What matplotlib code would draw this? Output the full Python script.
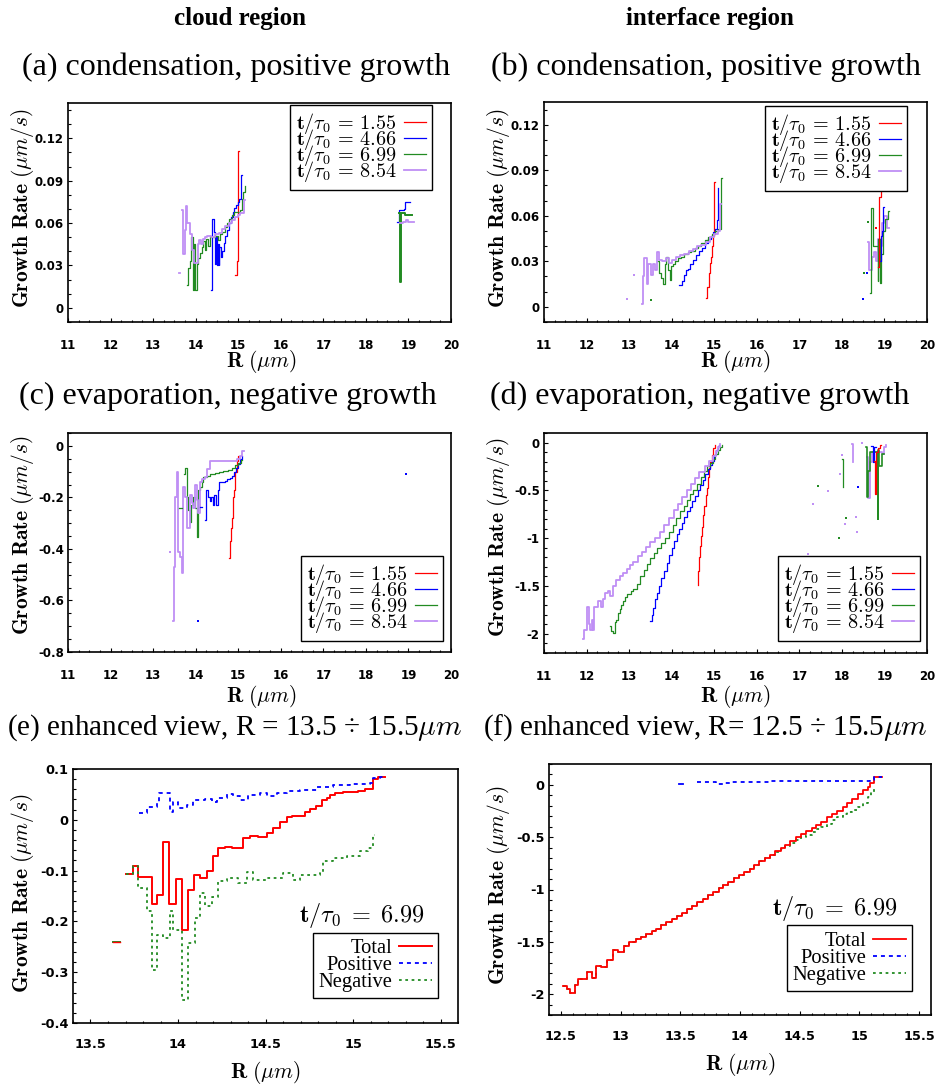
import matplotlib
matplotlib.use("Agg")
import matplotlib.pyplot as plt
from matplotlib.ticker import MultipleLocator, FuncFormatter

plt.rcParams["mathtext.fontset"] = "cm"
plt.rcParams["axes.unicode_minus"] = False

# ---------------------------------------------------------------- series
TIMES = ["1.55", "4.66", "6.99", "8.54"]
COLORS = ["#ff0000", "#0000ff", "#228b22", "#bf8ff5"]
WIDTHS = [0.9, 0.9, 0.9, 1.3]

# (a) cloud region, condensation
a_r155 = [14.93, 14.96, 14.985, 15.00, 15.01]
a_y155 = [0.023, 0.033, 0.050, 0.111, 0.111]
a_r155_far = [18.88, 18.91]
a_y155_far = [0.088, 0.088]

a_r466 = [14.37, 14.385, 14.43, 14.46, 14.48, 14.50, 14.52, 14.54, 14.56, 14.60, 14.63, 14.66,
          14.70, 14.74, 14.78, 14.83, 14.87, 14.91, 14.95, 14.99, 15.03, 15.07, 15.09]
a_y466 = [0.013, 0.063, 0.054, 0.031, 0.050, 0.030, 0.045, 0.030, 0.043, 0.036, 0.040, 0.046,
          0.051, 0.055, 0.060, 0.064, 0.068, 0.071, 0.073, 0.075, 0.077, 0.094, 0.094]
a_r466_far = [18.74, 18.78, 18.90, 18.93, 19.03]
a_y466_far = [0.061, 0.069, 0.070, 0.075, 0.075]

a_r699 = [13.79, 13.83, 13.86, 13.90, 13.94, 13.96, 13.98, 14.02, 14.06, 14.10, 14.14, 14.18,
          14.21, 14.25, 14.29, 14.33, 14.37, 14.45, 14.53, 14.58, 14.63, 14.68, 14.73, 14.79,
          14.85, 14.91, 14.97, 15.04, 15.09, 15.12, 15.15]
a_y699 = [0.016, 0.028, 0.033, 0.050, 0.013, 0.045, 0.013, 0.031, 0.035, 0.039, 0.043, 0.047,
          0.041, 0.049, 0.044, 0.051, 0.050, 0.051, 0.048, 0.052, 0.054, 0.057, 0.060, 0.063,
          0.066, 0.068, 0.068, 0.069, 0.077, 0.082, 0.086]
a_r699_far = [18.78, 18.80, 18.82, 18.93, 19.09]
a_y699_far = [0.067, 0.018, 0.067, 0.066, 0.066]

a_r854 = [13.68, 13.71, 13.75, 13.77, 13.80, 13.86, 13.92, 13.96, 14.05, 14.09, 14.13, 14.17,
          14.21, 14.26, 14.35, 14.45, 14.55, 14.63, 14.70, 14.78, 14.86, 14.93, 14.99, 15.05,
          15.13, 15.17]
a_y854 = [0.069, 0.038, 0.055, 0.072, 0.060, 0.052, 0.041, 0.032, 0.045, 0.048, 0.045, 0.049,
          0.050, 0.051, 0.050, 0.052, 0.053, 0.056, 0.058, 0.060, 0.062, 0.064, 0.066, 0.067,
          0.076, 0.076]
a_r854_dot = [13.60, 13.64]
a_y854_dot = [0.0245, 0.0245]
a_r854_far = [18.80, 18.88, 18.95, 19.00, 19.12]
a_y854_far = [0.060, 0.061, 0.062, 0.061, 0.061]

# (b) interface region, condensation
b_r155 = [14.81, 14.84, 14.87, 14.89, 14.92, 14.95, 14.98, 15.00, 15.02]
b_y155 = [0.006, 0.013, 0.022, 0.029, 0.033, 0.040, 0.047, 0.082, 0.082]
b_r155_far = [18.86, 18.87, 18.91, 18.94]
b_y155_far = [0.026, 0.0725, 0.077, 0.077]
b_r155_pts = [18.79]
b_y155_pts = [0.052]

b_r466 = [14.18, 14.25, 14.28, 14.33, 14.38, 14.43, 14.50, 14.57, 14.64, 14.71, 14.78, 14.85,
          14.92, 14.98, 15.03, 15.06, 15.09]
b_y466 = [0.0145, 0.017, 0.021, 0.024, 0.025, 0.028, 0.031, 0.034, 0.037, 0.039, 0.042, 0.045,
          0.047, 0.049, 0.051, 0.057, 0.078]
b_r466_far = [18.90, 18.92, 18.95, 18.97, 19.00]
b_y466_far = [0.030, 0.047, 0.050, 0.066, 0.066]
b_r466_pts = [18.50, 18.59]
b_y466_pts = [0.005, 0.022]

b_r699 = [13.65, 13.70, 13.76, 13.80, 13.84, 13.87, 13.91, 13.95, 13.98, 14.02, 14.07, 14.14,
          14.22, 14.30, 14.38, 14.46, 14.54, 14.62, 14.70, 14.78, 14.86, 14.94, 15.02, 15.10,
          15.16, 15.18]
b_y699 = [0.030, 0.022, 0.019, 0.015, 0.028, 0.033, 0.024, 0.018, 0.027, 0.028, 0.030, 0.032,
          0.033, 0.035, 0.036, 0.037, 0.039, 0.040, 0.042, 0.044, 0.046, 0.048, 0.050, 0.051,
          0.085, 0.085]
b_r699_far = [18.67, 18.69, 18.72, 18.84, 18.86, 18.89, 18.92, 18.96, 19.02, 19.08, 19.10]
b_y699_far = [0.009, 0.065, 0.040, 0.017, 0.045, 0.016, 0.035, 0.050, 0.058, 0.063, 0.063]
b_r699_pts = [13.51, 18.52, 18.62]
b_y699_pts = [0.0046, 0.022, 0.056]

b_r854 = [13.30, 13.32, 13.35, 13.41, 13.45, 13.51, 13.55, 13.60, 13.65, 13.70, 13.78, 13.86,
          13.93, 14.00, 14.10, 14.20, 14.30, 14.40, 14.50, 14.60, 14.70, 14.80, 14.90, 15.00,
          15.08, 15.14, 15.16]
b_y854 = [0.002, 0.020, 0.032, 0.015, 0.028, 0.021, 0.028, 0.024, 0.036, 0.031, 0.030, 0.032,
          0.029, 0.031, 0.033, 0.034, 0.035, 0.037, 0.038, 0.040, 0.041, 0.043, 0.046, 0.048,
          0.050, 0.068, 0.068]
b_r854_far = [18.62, 18.64, 18.70, 18.76, 18.80, 18.85, 18.90, 18.95, 19.00, 19.05, 19.10]
b_y854_far = [0.043, 0.024, 0.033, 0.036, 0.030, 0.045, 0.040, 0.055, 0.060, 0.052, 0.052]
b_r854_pts = [12.94, 13.12]
b_y854_pts = [0.005, 0.021]

# (c) cloud region, evaporation
c_r155 = [14.79, 14.81, 14.84, 14.86, 14.88, 14.91, 14.93, 14.96, 14.99, 15.01]
c_y155 = [-0.436, -0.37, -0.32, -0.28, -0.20, -0.17, -0.10, -0.06, -0.04, -0.04]

c_r466 = [14.22, 14.24, 14.29, 14.33, 14.36, 14.40, 14.44, 14.48, 14.52, 14.56, 14.62, 14.68,
          14.74, 14.80, 14.86, 14.90, 14.95, 15.00, 15.04, 15.08]
c_y466 = [-0.287, -0.170, -0.200, -0.215, -0.200, -0.230, -0.190, -0.230, -0.170, -0.140,
          -0.140, -0.135, -0.128, -0.125, -0.115, -0.100, -0.085, -0.070, -0.050, -0.040]
c_r466_far = [14.11, 14.16]
c_y466_far = [-0.236, -0.236]
c_r466_pts = [14.05, 18.95]
c_y466_pts = [-0.68, -0.11]

c_r699 = [13.73, 13.75, 13.79, 13.83, 13.87, 13.90, 13.94, 13.98, 14.02, 14.06, 14.10, 14.14,
          14.18, 14.26, 14.34, 14.45, 14.55, 14.65, 14.75, 14.85, 14.92, 15.00, 15.06, 15.10]
c_y699 = [-0.110, -0.087, -0.200, -0.250, -0.294, -0.230, -0.200, -0.240, -0.352, -0.170,
          -0.160, -0.140, -0.120, -0.115, -0.110, -0.105, -0.100, -0.097, -0.092, -0.085,
          -0.075, -0.068, -0.055, -0.055]
c_r699_far = [13.62, 13.67]
c_y699_far = [-0.24, -0.24]

c_r854 = [13.46, 13.48, 13.51, 13.55, 13.59, 13.63, 13.67, 13.71, 13.75, 13.79, 13.83, 13.87,
          13.91, 13.94, 13.98, 14.02, 14.06, 14.10, 14.16, 14.22, 14.26, 14.34, 14.50, 14.70,
          14.90, 14.98, 15.05, 15.10, 15.14]
c_y854 = [-0.68, -0.47, -0.20, -0.10, -0.41, -0.43, -0.494, -0.16, -0.20, -0.319, -0.32,
          -0.19, -0.22, -0.24, -0.15, -0.21, -0.26, -0.14, -0.13, -0.12, -0.09, -0.06, -0.06,
          -0.058, -0.057, -0.05, -0.04, -0.02, -0.02]
c_r854_pts = [13.40]
c_y854_pts = [-0.41]

# (d) interface region, evaporation
d_r155 = [14.61, 14.63, 14.65, 14.67, 14.70, 14.72, 14.74, 14.77, 14.80, 14.82, 14.85, 14.88,
          14.91, 14.95, 14.98, 15.01, 15.03]
d_y155 = [-1.49, -1.34, -1.20, -1.08, -0.98, -0.88, -0.76, -0.66, -0.55, -0.47, -0.36, -0.27,
          -0.20, -0.13, -0.06, -0.03, -0.03]
d_r155_far = [18.76, 18.78, 18.80, 18.86, 18.90, 18.93]
d_y155_far = [-0.19, -0.54, -0.10, -0.06, -0.03, -0.03]

d_r466 = [13.49, 13.53, 13.57, 13.62, 13.66, 13.70, 13.76, 13.82, 13.88, 13.94, 14.00, 14.06,
          14.12, 14.18, 14.24, 14.30, 14.36, 14.42, 14.48, 14.54, 14.61, 14.67, 14.73, 14.79,
          14.85, 14.90, 14.95, 15.00, 15.04, 15.08, 15.11]
d_y466 = [-1.87, -1.80, -1.73, -1.64, -1.57, -1.50, -1.42, -1.34, -1.26, -1.18, -1.10, -1.03,
          -0.96, -0.90, -0.84, -0.78, -0.72, -0.67, -0.61, -0.56, -0.50, -0.44, -0.39, -0.33,
          -0.28, -0.23, -0.19, -0.13, -0.08, -0.04, -0.03]
d_r466_far = [18.68, 18.72, 18.76, 18.80]
d_y466_far = [-0.04, -0.20, -0.05, -0.05]
d_r466_pts = [18.39]
d_y466_pts = [-0.46]

d_r699 = [12.54, 12.58, 12.62, 12.66, 12.70, 12.74, 12.78, 12.82, 12.86, 12.90, 12.95, 13.00,
          13.05, 13.10, 13.18, 13.26, 13.34, 13.42, 13.50, 13.58, 13.66, 13.75, 13.84, 13.93,
          14.02, 14.11, 14.20, 14.28, 14.36, 14.44, 14.51, 14.60, 14.68, 14.76, 14.83, 14.90,
          14.96, 15.02, 15.08, 15.13, 15.18]
d_y699 = [-1.92, -1.97, -1.99, -1.88, -1.85, -1.78, -1.74, -1.70, -1.66, -1.61, -1.58, -1.58,
          -1.55, -1.53, -1.48, -1.40, -1.33, -1.27, -1.21, -1.15, -1.10, -1.05, -1.00, -0.93,
          -0.86, -0.79, -0.72, -0.66, -0.60, -0.54, -0.50, -0.43, -0.36, -0.30, -0.25, -0.21,
          -0.17, -0.12, -0.08, -0.05, -0.03]
d_r699_far = [18.56, 18.58, 18.62, 18.66, 18.84, 18.86, 18.88, 18.94, 19.00]
d_y699_far = [-0.05, -0.57, -0.30, -0.10, -0.80, -0.08, -0.25, -0.12, -0.12]
d_r699_mid = [18.01, 18.03]
d_y699_mid = [-0.17, -0.46]
d_r699_pts = [17.45, 17.94, 18.10]
d_y699_pts = [-0.455, -1.0, -0.79]

d_r854 = [11.92, 11.95, 12.00, 12.02, 12.05, 12.08, 12.12, 12.15, 12.18, 12.24, 12.28, 12.33,
          12.38, 12.44, 12.50, 12.56, 12.62, 12.70, 12.78, 12.86, 12.94, 13.02, 13.10, 13.20,
          13.30, 13.40, 13.50, 13.61, 13.72, 13.83, 13.94, 14.05, 14.15, 14.25, 14.35, 14.45,
          14.55, 14.65, 14.78, 14.88, 14.96, 15.04, 15.10, 15.14]
d_y854 = [-2.05, -1.96, -1.95, -1.72, -1.90, -1.96, -1.86, -1.96, -1.72, -1.72, -1.66, -1.72,
          -1.64, -1.57, -1.55, -1.60, -1.50, -1.44, -1.40, -1.36, -1.32, -1.28, -1.25, -1.19,
          -1.14, -1.09, -1.04, -1.00, -0.93, -0.86, -0.79, -0.71, -0.64, -0.57, -0.50, -0.43,
          -0.37, -0.31, -0.25, -0.19, -0.14, -0.09, -0.05, -0.02]
d_r854_far = [18.60, 18.62, 18.66, 18.70, 18.94, 19.00, 19.04]
d_y854_far = [-0.15, -0.58, -0.20, -0.10, -0.12, -0.05, -0.03]
d_r854_mid = [18.24, 18.26]
d_y854_mid = [-0.02, -0.20]
d_r854_pts = [17.21, 17.33, 17.68, 17.95, 18.00, 18.08, 18.32, 18.35, 18.48]
d_y854_pts = [-1.17, -0.64, -0.51, -0.33, -0.13, -0.85, -0.78, -0.94, 0.0]

# (e) cloud region, t/tau0 = 6.99 split by sign
e_tot_r = [13.703, 13.741, 13.773, 13.850, 13.878, 13.912, 13.950, 13.989, 14.021, 14.059,
           14.093, 14.126, 14.164, 14.198, 14.230, 14.269, 14.307, 14.373, 14.411, 14.459,
           14.507, 14.545, 14.583, 14.621, 14.650, 14.726, 14.754, 14.789, 14.821, 14.850,
           14.869, 14.897, 14.945, 14.983, 15.030, 15.069, 15.113, 15.145, 15.183]
e_tot_y = [-0.107, -0.090, -0.112, -0.165, -0.148, -0.044, -0.165, -0.116, -0.217, -0.138,
           -0.108, -0.115, -0.100, -0.071, -0.056, -0.054, -0.056, -0.035, -0.031, -0.033,
           -0.025, -0.016, -0.005, 0.005, 0.007, 0.016, 0.021, 0.028, 0.038, 0.043,
           0.048, 0.052, 0.054, 0.055, 0.056, 0.061, 0.081, 0.085, 0.085]
e_tot_far_r = [13.63, 13.67]
e_tot_far_y = [-0.241, -0.241]

e_pos_r = [13.779, 13.821, 13.878, 13.893, 13.954, 13.973, 14.002, 14.050, 14.088, 14.154,
           14.192, 14.221, 14.278, 14.316, 14.354, 14.402, 14.469, 14.507, 14.564, 14.621,
           14.697, 14.792, 14.888, 14.983, 15.097, 15.117, 15.154, 15.183]
e_pos_y = [0.014, 0.026, 0.033, 0.052, 0.016, 0.036, 0.023, 0.030, 0.039, 0.041,
           0.036, 0.043, 0.051, 0.046, 0.039, 0.049, 0.052, 0.046, 0.052, 0.056,
           0.059, 0.064, 0.069, 0.071, 0.072, 0.082, 0.085, 0.085]

e_neg_r = [13.705, 13.741, 13.773, 13.821, 13.850, 13.878, 13.916, 13.954, 13.973, 14.021,
           14.059, 14.097, 14.126, 14.154, 14.192, 14.230, 14.278, 14.345, 14.392, 14.430,
           14.507, 14.602, 14.659, 14.697, 14.811, 14.830, 14.888, 14.964, 15.040, 15.088,
           15.117, 15.126]
e_neg_y = [-0.107, -0.090, -0.135, -0.180, -0.295, -0.226, -0.233, -0.180, -0.217, -0.354,
           -0.243, -0.194, -0.144, -0.170, -0.151, -0.121, -0.115, -0.125, -0.102, -0.118,
           -0.115, -0.105, -0.118, -0.108, -0.104, -0.082, -0.075, -0.072, -0.062, -0.056,
           -0.030, -0.030]

# (f) interface region, t/tau0 = 6.99 split by sign
f_tot_r = [12.515, 12.548, 12.576, 12.618, 12.646, 12.716, 12.758, 12.794, 12.833, 12.889,
           12.933, 12.980, 13.028, 13.073,
           13.13, 13.17, 13.21, 13.26, 13.30, 13.34, 13.38, 13.43, 13.47, 13.51,
           13.56, 13.60, 13.64, 13.69, 13.73, 13.77, 13.82, 13.86, 13.90, 13.95,
           13.99, 14.03, 14.08, 14.12, 14.16, 14.21, 14.25, 14.29, 14.34, 14.38,
           14.42, 14.47, 14.51, 14.55, 14.60, 14.64, 14.68, 14.73, 14.77, 14.81,
           14.86, 14.90, 14.94, 14.99, 15.03, 15.07, 15.09, 15.12, 15.19]
f_tot_y = [-1.92, -1.95, -1.99, -1.91, -1.86, -1.79, -1.85, -1.73, -1.74, -1.67,
           -1.58, -1.60, -1.54, -1.50,
           -1.47, -1.45, -1.43, -1.40, -1.38, -1.34, -1.31, -1.28, -1.25, -1.22,
           -1.19, -1.16, -1.12, -1.09, -1.05, -1.02, -0.99, -0.96, -0.93, -0.89,
           -0.86, -0.83, -0.80, -0.77, -0.73, -0.70, -0.67, -0.63, -0.60, -0.57,
           -0.54, -0.50, -0.47, -0.44, -0.41, -0.38, -0.35, -0.31, -0.28, -0.25,
           -0.21, -0.17, -0.13, -0.09, -0.05, -0.02, 0.02, 0.08, 0.08]

f_neg_r = [12.515, 12.548, 12.576, 12.618, 12.646, 12.716, 12.758, 12.794, 12.833, 12.889,
           12.933, 12.980, 13.028, 13.073,
           13.13, 13.17, 13.21, 13.26, 13.30, 13.34, 13.38, 13.43, 13.47, 13.51,
           13.56, 13.60, 13.64, 13.69, 13.73, 13.77, 13.82, 13.86, 13.90, 13.95,
           13.99, 14.03, 14.08, 14.12, 14.16, 14.21, 14.25,
           14.29, 14.34, 14.38, 14.42, 14.47, 14.51, 14.55, 14.60, 14.64, 14.68,
           14.73, 14.77, 14.81, 14.86, 14.90, 14.94, 14.99, 15.03, 15.07, 15.10, 15.12]
f_neg_y = [-1.92, -1.95, -1.99, -1.91, -1.86, -1.79, -1.85, -1.73, -1.74, -1.67,
           -1.58, -1.60, -1.54, -1.50,
           -1.47, -1.45, -1.43, -1.40, -1.38, -1.34, -1.31, -1.28, -1.25, -1.22,
           -1.19, -1.16, -1.12, -1.09, -1.05, -1.02, -0.99, -0.96, -0.93, -0.89,
           -0.86, -0.83, -0.80, -0.77, -0.73, -0.70, -0.67,
           -0.64, -0.61, -0.58, -0.56, -0.53, -0.50, -0.48, -0.45, -0.42, -0.40,
           -0.37, -0.34, -0.31, -0.28, -0.26, -0.24, -0.21, -0.17, -0.12, -0.07, -0.03]

f_pos_r = [13.64, 13.72, 13.80, 13.86, 13.93, 14.00, 14.10, 14.25, 14.50, 14.80, 15.09,
           15.12, 15.19]
f_pos_y = [0.030, 0.028, 0.012, 0.018, 0.025, 0.028, 0.030, 0.033, 0.037, 0.042, 0.048,
           0.080, 0.080]
f_pos_far_r = [13.49, 13.52]
f_pos_far_y = [0.006, 0.006]

# ---------------------------------------------------------------- layout
W, H = 938, 1086
fig = plt.figure(figsize=(W / 100, H / 100), dpi=100)

SERIF = "Liberation Serif"


def box(left, top, right, bottom):
    return [left / W, 1 - bottom / H, (right - left) / W, (bottom - top) / H]


def fmt(v, _pos):
    v = round(v, 6)
    if v == 0:
        return "0"
    return f"{v:g}"


def make_axes(rect, xlim, ylim, xmajor, xminor, ymajor, yminor, tsize, xpad):
    ax = fig.add_axes(rect)
    ax.set_xlim(*xlim)
    ax.set_ylim(*ylim)
    ax.xaxis.set_major_locator(MultipleLocator(xmajor))
    ax.xaxis.set_minor_locator(MultipleLocator(xminor))
    ax.yaxis.set_major_locator(MultipleLocator(ymajor))
    ax.yaxis.set_minor_locator(MultipleLocator(yminor))
    ax.xaxis.set_major_formatter(FuncFormatter(fmt))
    ax.yaxis.set_major_formatter(FuncFormatter(fmt))
    ax.tick_params(which="both", direction="in", top=False, right=False, width=0.8)
    ax.tick_params(which="major", length=3.2)
    ax.tick_params(which="minor", length=1.8)
    ax.tick_params(axis="x", which="major", pad=xpad)
    ax.tick_params(axis="y", which="major", pad=3)
    for lab in ax.get_xticklabels() + ax.get_yticklabels():
        lab.set_fontsize(tsize)
        lab.set_fontweight("bold")
        lab.set_fontfamily("DejaVu Sans")
    for sp in ax.spines.values():
        sp.set_linewidth(1.2)
    return ax


def steps(ax, r, y, color, lw, **kw):
    return ax.plot(r, y, drawstyle="steps-post", color=color, lw=lw, **kw)[0]


def points(ax, r, y, color):
    ax.plot(r, y, ls="none", marker="s", ms=1.6, mew=0, color=color)


def time_legend(ax, handles, loc, anchor):
    labels = [r"$\mathbf{t}/\tau_{\mathbf{0}}\,\mathbf{=}\,\mathbf{" + t + "}$" for t in TIMES]
    leg = ax.legend(handles, labels, loc=loc, bbox_to_anchor=anchor, borderaxespad=0,
                    fontsize=14.5, markerfirst=False, handlelength=1.1, handletextpad=0.35,
                    labelspacing=-0.45, borderpad=0.3, fancybox=False, framealpha=1)
    leg.get_frame().set_edgecolor("black")
    leg.get_frame().set_linewidth(1.0)
    return leg


XLAB = r"$\mathbf{R}\ (\mu m)$"
YLAB = r"$\mathbf{Growth\ Rate}\ (\mu m/s)$"


def fig_text(x, y, s, **kw):
    fig.text(x / W, 1 - y / H, s, ha="center", va="center", **kw)


# column headers and panel titles
fig_text(240, 18, "cloud region", fontsize=18, fontweight="bold", family=SERIF)
fig_text(710, 18, "interface region", fontsize=18, fontweight="bold", family=SERIF)
fig_text(236, 67, "(a) condensation, positive growth", fontsize=23, family=SERIF)
fig_text(706, 67, "(b) condensation, positive growth", fontsize=23, family=SERIF)
fig_text(228, 396, "(c) evaporation, negative growth", fontsize=23, family=SERIF)
fig_text(700, 396, "(d) evaporation, negative growth", fontsize=23, family=SERIF)
fig_text(235, 728, r"(e) enhanced view, R = 13.5 ÷ 15.5$\mu m$", fontsize=21, family=SERIF)
fig_text(705, 728, r"(f) enhanced view, R= 12.5 ÷ 15.5$\mu m$", fontsize=21, family=SERIF)

# ---------------------------------------------------------------- panel (a)
ax_a = make_axes(box(68, 103, 451, 322), (11, 20), (-0.01, 0.145), 1, 0.25, 0.03, 0.01, 8.5, 12)
main_a = []
for (r, y), c, w in zip([(a_r155, a_y155), (a_r466, a_y466), (a_r699, a_y699), (a_r854, a_y854)],
                        COLORS, WIDTHS):
    main_a.append(steps(ax_a, r, y, c, w))
steps(ax_a, a_r155_far, a_y155_far, COLORS[0], WIDTHS[0])
steps(ax_a, a_r466_far, a_y466_far, COLORS[1], WIDTHS[1])
steps(ax_a, a_r699_far, a_y699_far, COLORS[2], 1.4)
steps(ax_a, a_r854_far, a_y854_far, COLORS[3], WIDTHS[3])
steps(ax_a, a_r854_dot, a_y854_dot, COLORS[3], WIDTHS[3])
time_legend(ax_a, main_a, "upper right", (0.950, 0.991))

# ---------------------------------------------------------------- panel (b)
ax_b = make_axes(box(544, 102, 927, 322), (11, 20), (-0.01, 0.135), 1, 0.25, 0.03, 0.01, 8.5, 12)
main_b = []
for (r, y), c, w in zip([(b_r155, b_y155), (b_r466, b_y466), (b_r699, b_y699), (b_r854, b_y854)],
                        COLORS, WIDTHS):
    main_b.append(steps(ax_b, r, y, c, w))
steps(ax_b, b_r854_far, b_y854_far, COLORS[3], WIDTHS[3])
steps(ax_b, b_r699_far, b_y699_far, COLORS[2], WIDTHS[2])
steps(ax_b, b_r466_far, b_y466_far, COLORS[1], WIDTHS[1])
steps(ax_b, b_r155_far, b_y155_far, COLORS[0], WIDTHS[0])
points(ax_b, b_r155_pts, b_y155_pts, COLORS[0])
points(ax_b, b_r466_pts, b_y466_pts, COLORS[1])
points(ax_b, b_r699_pts, b_y699_pts, COLORS[2])
points(ax_b, b_r854_pts, b_y854_pts, COLORS[3])
time_legend(ax_b, main_b, "upper right", (0.948, 0.982))

# ---------------------------------------------------------------- panel (c)
ax_c = make_axes(box(68, 433, 451, 652), (11, 20), (-0.8, 0.05), 1, 0.25, 0.2, 0.05, 8.5, 12)
main_c = []
for (r, y), c, w in zip([(c_r155, c_y155), (c_r466, c_y466), (c_r699, c_y699), (c_r854, c_y854)],
                        COLORS, WIDTHS):
    main_c.append(steps(ax_c, r, y, c, w))
steps(ax_c, c_r466_far, c_y466_far, COLORS[1], WIDTHS[1])
steps(ax_c, c_r699_far, c_y699_far, COLORS[2], WIDTHS[2])
points(ax_c, c_r466_pts, c_y466_pts, COLORS[1])
points(ax_c, c_r854_pts, c_y854_pts, COLORS[3])
time_legend(ax_c, main_c, "lower right", (0.979, 0.050))

# ---------------------------------------------------------------- panel (d)
ax_d = make_axes(box(544, 433, 927, 653), (11, 20), (-2.2, 0.1), 1, 0.25, 0.5, 0.1, 8.5, 12)
main_d = []
for (r, y), c, w in zip([(d_r155, d_y155), (d_r466, d_y466), (d_r699, d_y699), (d_r854, d_y854)],
                        COLORS, WIDTHS):
    main_d.append(steps(ax_d, r, y, c, w))
steps(ax_d, d_r854_far, d_y854_far, COLORS[3], WIDTHS[3])
steps(ax_d, d_r854_mid, d_y854_mid, COLORS[3], WIDTHS[3])
steps(ax_d, d_r699_far, d_y699_far, COLORS[2], 1.2)
steps(ax_d, d_r699_mid, d_y699_mid, COLORS[2], WIDTHS[2])
steps(ax_d, d_r466_far, d_y466_far, COLORS[1], WIDTHS[1])
steps(ax_d, d_r155_far, d_y155_far, COLORS[0], WIDTHS[0])
points(ax_d, d_r466_pts, d_y466_pts, COLORS[1])
points(ax_d, d_r699_pts, d_y699_pts, COLORS[2])
points(ax_d, d_r854_pts, d_y854_pts, COLORS[3])
time_legend(ax_d, main_d, "lower right", (0.982, 0.055))


# ---------------------------------------------------------------- panels (e), (f)
def sign_legend(ax, handles, anchor):
    leg = ax.legend(handles, ["Total", "Positive", "Negative"], loc="lower right",
                    bbox_to_anchor=anchor, borderaxespad=0, markerfirst=False,
                    prop={"family": SERIF, "size": 14.8}, handlelength=1.6,
                    handletextpad=0.3, labelspacing=-0.12, borderpad=0.3,
                    fancybox=False, framealpha=1)
    leg.get_frame().set_edgecolor("black")
    leg.get_frame().set_linewidth(1.0)


STAMP = r"$\mathbf{t}/\tau_{\mathbf{0}}\;\mathbf{=}\;\mathbf{6.99}$"

ax_e = make_axes(box(73, 769, 458, 1023), (13.4, 15.6), (-0.4, 0.1), 0.5, 0.1, 0.1, 0.02, 9.3, 11)
h_tot = steps(ax_e, e_tot_r, e_tot_y, "#ff0000", 1.4)
h_pos = steps(ax_e, e_pos_r, e_pos_y, "#0000ff", 1.3, dashes=(2.2, 2.2))
h_neg = steps(ax_e, e_neg_r, e_neg_y, "#228b22", 1.3, dashes=(1.5, 2.0))
steps(ax_e, e_tot_far_r, e_tot_far_y, "#228b22", 1.4)
steps(ax_e, e_tot_far_r, e_tot_far_y, "#ff0000", 1.0)
ax_e.text(0.75, 0.425, STAMP, transform=ax_e.transAxes, ha="center", va="center", fontsize=17.5)
sign_legend(ax_e, [h_tot, h_pos, h_neg], (0.948, 0.098))

ax_f = make_axes(box(549, 764, 931, 1015), (12.4, 15.6), (-2.2, 0.2), 0.5, 0.1, 0.5, 0.1, 9.3, 11)
g_neg = steps(ax_f, f_neg_r, f_neg_y, "#228b22", 1.3, dashes=(1.5, 2.0))
g_tot = steps(ax_f, f_tot_r, f_tot_y, "#ff0000", 1.3)
g_pos = steps(ax_f, f_pos_r, f_pos_y, "#0000ff", 1.3, dashes=(2.2, 2.2))
steps(ax_f, f_pos_far_r, f_pos_far_y, "#0000ff", 1.3)
ax_f.text(0.749, 0.426, STAMP, transform=ax_f.transAxes, ha="center", va="center", fontsize=17.5)
sign_legend(ax_f, [g_tot, g_pos, g_neg], (0.95, 0.096))

# ---------------------------------------------------------------- axis titles
for x, y in [(23, 208), (498, 208), (23, 535), (498, 537), (22, 893), (498, 885)]:
    fig_text(x, y, YLAB, fontsize=15.5, rotation=90)
for x, y in [(262, 362), (736, 362), (262, 696), (736, 696), (266, 1072), (741, 1064)]:
    fig_text(x, y, XLAB, fontsize=15.5)

fig.savefig("out.png", dpi=100)
